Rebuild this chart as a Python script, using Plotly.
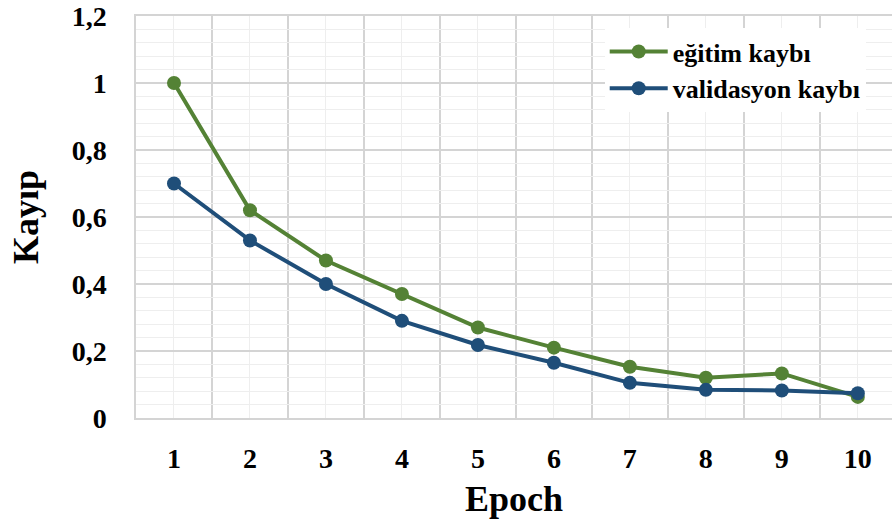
import plotly.graph_objects as go

# Loss per epoch
epochs = [1, 2, 3, 4, 5, 6, 7, 8, 9, 10]
egitim_kaybi = [1.00, 0.62, 0.47, 0.37, 0.27, 0.21, 0.153, 0.12, 0.133, 0.063]
validasyon_kaybi = [0.70, 0.53, 0.40, 0.29, 0.218, 0.165, 0.105, 0.084, 0.082, 0.074]
y_ticks = [0, 0.2, 0.4, 0.6, 0.8, 1.0, 1.2]

GREEN = "#548235"
BLUE = "#1F4E79"
FONT = "Liberation Serif"
MAJOR_GRID = "#d4d4d4"
MINOR_GRID = "#eeeeee"

fig = go.Figure()
fig.add_trace(go.Scatter(
    x=epochs, y=egitim_kaybi, name="eğitim kaybı", mode="lines+markers",
    line=dict(color=GREEN, width=4), marker=dict(size=14, color=GREEN),
))
fig.add_trace(go.Scatter(
    x=epochs, y=validasyon_kaybi, name="validasyon kaybı", mode="lines+markers",
    line=dict(color=BLUE, width=4), marker=dict(size=14, color=BLUE),
))

fig.update_layout(
    width=892, height=529,
    margin=dict(l=136, r=0, t=16, b=111),
    paper_bgcolor="white", plot_bgcolor="white",
    separators=", ",
    font=dict(family=FONT, color="black"),
    showlegend=True,
    legend=dict(
        x=0.62, y=0.97, xanchor="left", yanchor="top",
        bgcolor="white", borderwidth=0, itemwidth=58,
        font=dict(family=FONT, size=26, weight=700, color="black"),
    ),
    xaxis=dict(
        range=[0.5, 10.45],
        tickmode="array", tickvals=epochs, ticktext=[str(e) for e in epochs],
        showgrid=True, gridcolor=MINOR_GRID, gridwidth=1,
        minor=dict(tickmode="array", tickvals=[e - 0.5 for e in epochs] + [10.5],
                   showgrid=True, gridcolor=MAJOR_GRID, gridwidth=1.5),
        zeroline=False, showline=True, mirror=True, linecolor=MAJOR_GRID, linewidth=1.5,
        ticks="outside", ticklen=15, tickcolor="rgba(0,0,0,0)",
        tickfont=dict(family=FONT, size=28, weight=700, color="black"),
        title=dict(text="Epoch", standoff=12,
                   font=dict(family=FONT, size=36, weight=700, color="black")),
    ),
    yaxis=dict(
        range=[0, 1.2],
        tickmode="array", tickvals=y_ticks,
        showgrid=True, gridcolor=MAJOR_GRID, gridwidth=1.5,
        minor=dict(dtick=0.04, tick0=0, showgrid=True, gridcolor=MINOR_GRID, gridwidth=1),
        zeroline=False, showline=True, linecolor=MAJOR_GRID, linewidth=1.5,
        ticks="outside", ticklen=22, tickcolor="rgba(0,0,0,0)",
        tickfont=dict(family=FONT, size=28, weight=700, color="black"),
        title=dict(text="Kayıp", standoff=22,
                   font=dict(family=FONT, size=36, weight=700, color="black")),
    ),
)

fig.write_html("out.html")
